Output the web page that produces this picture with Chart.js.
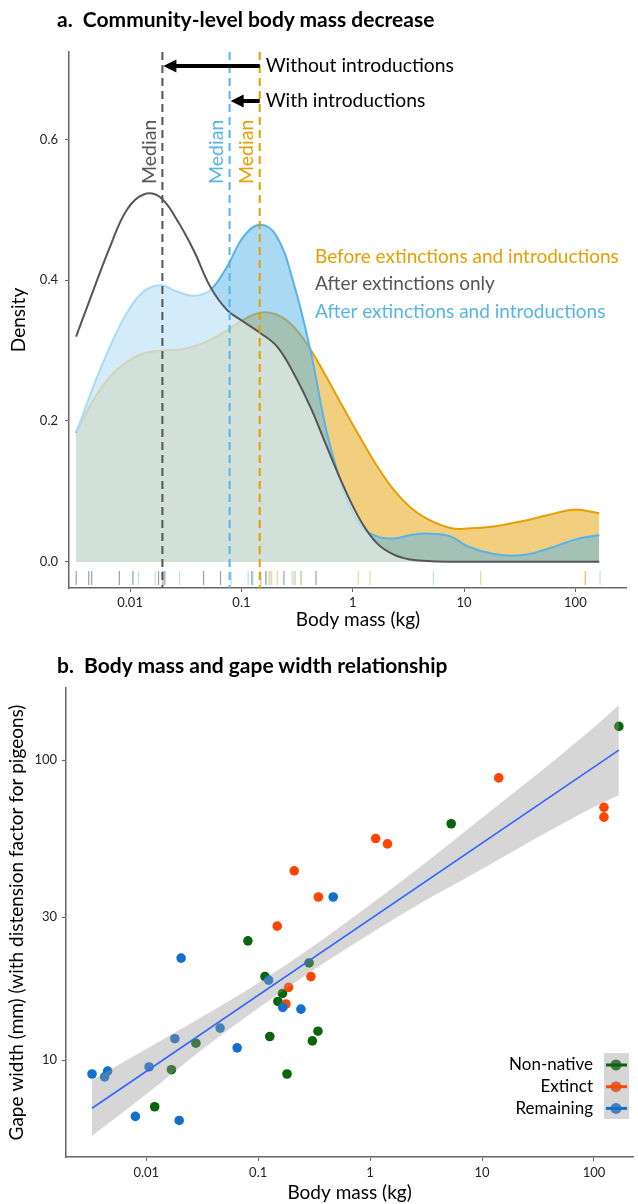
<!DOCTYPE html>
<html>
<head>
<meta charset="utf-8">
<script src="https://cdn.jsdelivr.net/npm/chart.js@4.4.0/dist/chart.umd.min.js"></script>
<style>
  body { margin: 0; background: #fff; font-family: Lato, sans-serif; }
  #page { position: relative; width: 638px; height: 1204px; overflow: hidden; }
  .title { position: absolute; left: 57px; font-weight: bold; font-size: 21px; line-height: 26px; color: #000; white-space: nowrap; }
  #boxA { position: absolute; left: 0; top: 0; width: 638px; height: 640px; }
  #boxB { position: absolute; left: 0; top: 640px; width: 638px; height: 564px; }
</style>
</head>
<body>
<div id="page">
  <div id="boxA"><canvas id="densityChart"></canvas></div>
  <div id="boxB"><canvas id="gapeChart"></canvas></div>
  <div class="title" style="top:6px">a.&nbsp; Community-level body mass decrease</div>
  <div class="title" style="top:652px">b.&nbsp; Body mass and gape width relationship</div>
</div>
<script>
// ---- panel a : density of body mass ----
const massGrid = [0.00327, 0.00468, 0.00661, 0.00933, 0.0132, 0.0186, 0.0263, 0.0371, 0.0524, 0.0741,
  0.1045, 0.1476, 0.2084, 0.2944, 0.416, 0.587, 0.828, 1.17, 1.654, 2.335,
  3.3, 4.66, 7.55, 10.7, 18.5, 32.2, 55.8, 97.0, 164];
const densBefore = [0.183, 0.230, 0.263, 0.284, 0.296, 0.300, 0.301, 0.306, 0.315, 0.329,
  0.344, 0.354, 0.351, 0.334, 0.302, 0.261, 0.218, 0.176, 0.136, 0.102,
  0.077, 0.061, 0.048, 0.047, 0.050, 0.057, 0.066, 0.074, 0.069];
const densExtOnly = [0.320, 0.386, 0.448, 0.500, 0.522, 0.518, 0.486, 0.443, 0.391, 0.358,
  0.341, 0.325, 0.306, 0.268, 0.220, 0.163, 0.107, 0.059, 0.026, 0.010,
  0.003, 0.001, 0, 0, 0, 0, 0, 0, 0];
const densExtIntro = [0.183, 0.249, 0.306, 0.353, 0.384, 0.393, 0.384, 0.378, 0.386, 0.419,
  0.462, 0.479, 0.462, 0.396, 0.301, 0.183, 0.102, 0.052, 0.036, 0.033,
  0.038, 0.040, 0.036, 0.022, 0.011, 0.009, 0.018, 0.031, 0.038];
const medianMass = [0.0195, 0.0783, 0.146];   // after ext. only, after ext.+intro, before
const densityTicks = [0, 0.2, 0.4, 0.6];
const massTicks = [0.01, 0.1, 1, 10, 100];

// ---- panel b : gape width vs body mass ----
const nonNativeMass = [0.081, 0.285, 0.115, 0.165, 0.150, 0.342, 0.127, 0.305, 0.0278, 0.0168, 0.181, 0.0119, 5.30, 166.7];
const nonNativeGape = [25.0, 21.1, 19.0, 16.7, 15.7, 12.5, 12.0, 11.6, 11.4, 9.3, 9.0, 7.0, 61.4, 129.6];
const extinctMass = [0.345, 0.148, 0.296, 0.187, 0.177, 14.1, 122.7, 122.7, 1.12, 1.43, 0.21];
const extinctGape = [35.0, 28.0, 19.0, 17.5, 15.4, 87.3, 69.6, 64.6, 54.8, 52.6, 42.8];
const remainingMass = [0.468, 0.0205, 0.124, 0.166, 0.241, 0.0457, 0.018, 0.0649, 0.0106, 0.00328, 0.00452, 0.00425, 0.0080, 0.0197];
const remainingGape = [35.0, 21.9, 18.5, 15.0, 14.8, 12.8, 11.8, 11.0, 9.5, 9.0, 9.2, 8.8, 6.5, 6.3];
const fitMass = [0.00328, 166.7];
const fitGape = [6.92, 108];
const bandMass = [0.00328, 0.01, 0.03, 0.1, 0.3, 1, 3, 10, 30, 100, 166.7];
const bandUpper = [8.6, 10.9, 13.8, 18.1, 23.8, 33.0, 45.0, 64.3, 88.9, 128.8, 152.4];
const bandLower = [5.6, 7.7, 10.7, 14.9, 19.8, 26.4, 33.8, 43.4, 54.8, 69.8, 76.4];
const gapeTicks = [10, 30, 100];

const ORANGE = "#E69F00";
const BLUE = "#56B4E9";
const GREY = "#555555";
const FONT = "Lato";

function pts(xs, ys) {
  return xs.map((x, i) => ({ x: x, y: ys[i] }));
}

const tickFont = { family: FONT, size: 13 };

// dashed medians, rug, arrows and labels of panel a
const densityExtras = {
  id: "densityExtras",
  afterDatasetsDraw(chart) {
    const { ctx, chartArea, scales } = chart;
    const x = scales.x;

    // rug
    const rugs = [
      [remainingMass, "rgba(60,85,110,0.55)"],
      [nonNativeMass, "rgba(86,180,233,0.4)"],
      [extinctMass, "rgba(230,159,0,0.45)"]
    ];
    ctx.save();
    ctx.lineWidth = 1.2;
    rugs.forEach(([arr, col]) => {
      ctx.strokeStyle = col;
      arr.forEach(m => {
        const px = x.getPixelForValue(m);
        ctx.beginPath();
        ctx.moveTo(px, chartArea.bottom - 17);
        ctx.lineTo(px, chartArea.bottom - 3);
        ctx.stroke();
      });
    });
    ctx.restore();

    // median lines + labels
    const medCols = [GREY, BLUE, ORANGE];
    medianMass.forEach((m, i) => {
      const px = x.getPixelForValue(m);
      ctx.save();
      ctx.strokeStyle = medCols[i];
      ctx.lineWidth = 2;
      ctx.setLineDash([8, 5]);
      ctx.beginPath();
      ctx.moveTo(px, chartArea.top);
      ctx.lineTo(px, chartArea.bottom);
      ctx.stroke();
      ctx.restore();

      ctx.save();
      ctx.translate(px - 13, 184);
      ctx.rotate(-Math.PI / 2);
      ctx.fillStyle = medCols[i];
      ctx.font = "19.5px " + FONT;
      ctx.textAlign = "left";
      ctx.textBaseline = "middle";
      ctx.fillText("Median", 0, 0);
      ctx.restore();
    });

    // arrows from the "before" median
    const from = x.getPixelForValue(medianMass[2]);
    const arrows = [[medianMass[0], 66, "Without introductions"], [medianMass[1], 101, "With introductions"]];
    ctx.save();
    arrows.forEach(([m, yy, label]) => {
      const to = x.getPixelForValue(m);
      ctx.strokeStyle = "#000";
      ctx.fillStyle = "#000";
      ctx.lineWidth = 4;
      ctx.beginPath();
      ctx.moveTo(from, yy);
      ctx.lineTo(to + 10, yy);
      ctx.stroke();
      ctx.beginPath();
      ctx.moveTo(to + 1, yy);
      ctx.lineTo(to + 14, yy - 6.5);
      ctx.lineTo(to + 14, yy + 6.5);
      ctx.closePath();
      ctx.fill();
      ctx.font = "19.3px " + FONT;
      ctx.textAlign = "left";
      ctx.textBaseline = "middle";
      ctx.fillText(label, from + 6, yy);
    });
    ctx.restore();

    // series labels
    ctx.save();
    ctx.font = "19px " + FONT;
    ctx.textAlign = "left";
    ctx.textBaseline = "middle";
    ctx.fillStyle = ORANGE;
    ctx.fillText("Before extinctions and introductions", 315, 257);
    ctx.fillStyle = GREY;
    ctx.fillText("After extinctions only", 315, 284);
    ctx.fillStyle = BLUE;
    ctx.fillText("After extinctions and introductions", 315, 312);
    ctx.restore();
  },
  afterDraw(chart) {
    const { ctx, chartArea } = chart;
    ctx.save();
    ctx.fillStyle = "#000";
    ctx.font = "19px " + FONT;
    ctx.textAlign = "center";
    ctx.textBaseline = "middle";
    ctx.fillText("Body mass (kg)", 358, 620);
    ctx.translate(19, (chartArea.top + chartArea.bottom) / 2);
    ctx.rotate(-Math.PI / 2);
    ctx.fillText("Density", 0, 0);
    ctx.restore();
  }
};

function densityLine(label, ys, col, fillCol) {
  return {
    label: label,
    data: pts(massGrid, ys),
    borderColor: col,
    backgroundColor: fillCol,
    borderWidth: 2,
    fill: "origin",
    pointRadius: 0,
    tension: 0.4
  };
}

new Chart(document.getElementById("densityChart"), {
  type: "line",
  data: {
    datasets: [
      densityLine("After extinctions only", densExtOnly, GREY, "rgba(255,255,255,0.5)"),
      densityLine("After extinctions and introductions", densExtIntro, BLUE, "rgba(86,180,233,0.5)"),
      densityLine("Before extinctions and introductions", densBefore, ORANGE, "rgba(230,159,0,0.5)")
    ]
  },
  options: {
    responsive: true,
    maintainAspectRatio: false,
    animation: false,
    layout: { padding: { top: 52, right: 12, bottom: 0, left: 0 } },
    plugins: { legend: { display: false }, tooltip: { enabled: false } },
    scales: {
      x: {
        type: "logarithmic",
        min: 0.002825,
        max: 285,
        afterFit: s => { s.height = 52; },
        afterBuildTicks: s => { s.ticks = massTicks.map(v => ({ value: v })); },
        ticks: { callback: v => String(v), font: tickFont, color: "#222", padding: 3, maxRotation: 0 },
        grid: { drawOnChartArea: false, tickLength: 4, color: "#666" },
        border: { color: "#666", width: 1.5 }
      },
      y: {
        min: -0.0374,
        max: 0.7245,
        afterFit: s => { s.width = 69; },
        afterBuildTicks: s => { s.ticks = densityTicks.map(v => ({ value: v })); },
        ticks: { callback: v => Number(v).toFixed(1), font: tickFont, color: "#222", padding: 7 },
        grid: { drawOnChartArea: false, tickLength: 4, color: "#666" },
        border: { color: "#666", width: 1.5 }
      }
    }
  },
  plugins: [densityExtras]
});

// legend and axis titles of panel b
const gapeExtras = {
  id: "gapeExtras",
  afterDraw(chart) {
    const { ctx, chartArea } = chart;
    ctx.save();
    ctx.fillStyle = "#000";
    ctx.font = "19px " + FONT;
    ctx.textAlign = "center";
    ctx.textBaseline = "middle";
    ctx.fillText("Body mass (kg)", (chartArea.left + chartArea.right) / 2, 553);
    ctx.translate(17, (chartArea.top + chartArea.bottom) / 2);
    ctx.rotate(-Math.PI / 2);
    ctx.fillText("Gape width (mm) (with distension factor for pigeons)", 0, 0);
    ctx.restore();

    const keys = [["Non-native", "#0A640A"], ["Extinct", "#FF4500"], ["Remaining", "#1170CC"]];
    ctx.save();
    keys.forEach(([name, col], i) => {
      const yy = 425 + i * 21.7;
      ctx.fillStyle = col;
      ctx.beginPath();
      ctx.arc(616, yy, 5.5, 0, Math.PI * 2);
      ctx.fill();
      ctx.fillStyle = "#000";
      ctx.font = "17px " + FONT;
      ctx.textAlign = "right";
      ctx.textBaseline = "middle";
      ctx.fillText(name, 593, yy);
    });
    ctx.fillStyle = "rgba(153,153,153,0.4)";
    ctx.fillRect(604, 413, 25, 66);
    keys.forEach(([name, col], i) => {
      const yy = 425 + i * 21.7;
      ctx.strokeStyle = col;
      ctx.lineWidth = 3;
      ctx.beginPath();
      ctx.moveTo(606, yy);
      ctx.lineTo(627, yy);
      ctx.stroke();
    });
    ctx.restore();
  }
};

function dots(xs, ys, col) {
  return {
    data: pts(xs, ys),
    backgroundColor: col,
    borderColor: col,
    borderWidth: 0,
    pointRadius: 4.8,
    showLine: false
  };
}

new Chart(document.getElementById("gapeChart"), {
  type: "scatter",
  data: {
    datasets: [
      {
        label: "fit",
        data: pts(fitMass, fitGape),
        showLine: true,
        borderColor: "#3366FF",
        borderWidth: 1.6,
        pointRadius: 0
      },
      {
        label: "band upper",
        data: pts(bandMass, bandUpper),
        showLine: true,
        borderWidth: 0,
        borderColor: "rgba(0,0,0,0)",
        backgroundColor: "rgba(153,153,153,0.4)",
        fill: "+1",
        pointRadius: 0,
        cubicInterpolationMode: "monotone"
      },
      {
        label: "band lower",
        data: pts(bandMass, bandLower),
        showLine: true,
        borderWidth: 0,
        borderColor: "rgba(0,0,0,0)",
        pointRadius: 0,
        cubicInterpolationMode: "monotone"
      },
      dots(remainingMass, remainingGape, "#1170CC"),
      dots(extinctMass, extinctGape, "#FF4500"),
      dots(nonNativeMass, nonNativeGape, "#0A640A")
    ]
  },
  options: {
    responsive: true,
    maintainAspectRatio: false,
    animation: false,
    layout: { padding: { top: 48, right: 2, bottom: 0, left: 0 } },
    plugins: { legend: { display: false }, tooltip: { enabled: false } },
    scales: {
      x: {
        type: "logarithmic",
        min: 0.00192,
        max: 224,
        afterFit: s => { s.height = 47; },
        afterBuildTicks: s => { s.ticks = massTicks.map(v => ({ value: v })); },
        ticks: { callback: v => String(v), font: tickFont, color: "#222", padding: 4, maxRotation: 0 },
        grid: { drawOnChartArea: false, tickLength: 4, color: "#666" },
        border: { color: "#666", width: 1.5 }
      },
      y: {
        type: "logarithmic",
        min: 4.76,
        max: 174,
        afterFit: s => { s.width = 66; },
        afterBuildTicks: s => { s.ticks = gapeTicks.map(v => ({ value: v })); },
        ticks: { callback: v => String(v), font: tickFont, color: "#222", padding: 5 },
        grid: { drawOnChartArea: false, tickLength: 4, color: "#666" },
        border: { color: "#666", width: 1.5 }
      }
    }
  },
  plugins: [gapeExtras]
});
</script>
</body>
</html>
